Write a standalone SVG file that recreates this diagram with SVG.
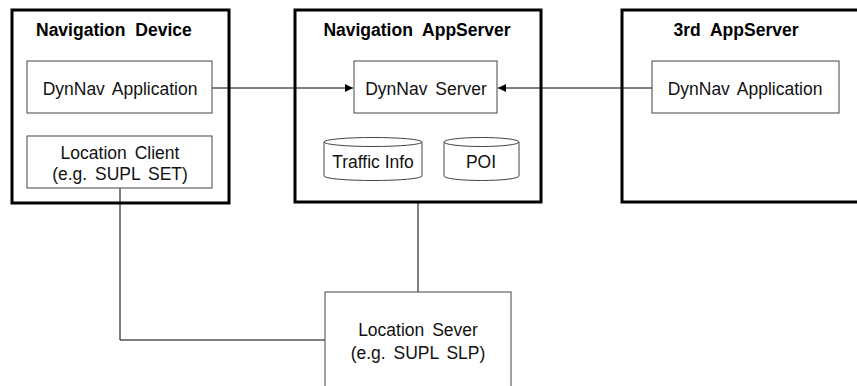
<svg xmlns="http://www.w3.org/2000/svg" width="857" height="386" viewBox="0 0 857 386">
<style>
.outer{fill:none;stroke:#000;stroke-width:3}
.inner{fill:#fff;stroke:#444;stroke-width:1}
.title{font-family:"Liberation Sans",Arial,sans-serif;font-weight:bold;font-size:17.5px;fill:#000;word-spacing:5px}
.lbl{font-family:"Liberation Sans",Arial,sans-serif;font-size:17.5px;fill:#111;text-anchor:middle;word-spacing:3px}
.conn{fill:none;stroke:#000;stroke-width:1}
</style>
<defs>
<marker id="arr" viewBox="0 0 10 10" refX="10" refY="5" markerWidth="8" markerHeight="8" markerUnits="userSpaceOnUse" orient="auto">
<path d="M0,0 L10,5 L0,10 z" fill="#000"/>
</marker>
</defs>
<rect width="857" height="386" fill="#fff"/>
<g id="connectors">
<line class="conn" x1="212" y1="88" x2="353" y2="88" marker-end="url(#arr)"/>
<line class="conn" x1="652" y1="88" x2="498" y2="88" marker-end="url(#arr)"/>
<polyline class="conn" points="120,188 120,340 325,340"/>
<line class="conn" x1="418" y1="202" x2="418" y2="292"/>
</g>
<g id="nav-device">
<rect class="outer" x="12" y="10" width="217" height="193"/>
<text class="title" x="36" y="36">Navigation Device</text>
</g>
<g id="nav-appserver">
<rect class="outer" x="295" y="10" width="246" height="192"/>
<text class="title" x="417" y="36" text-anchor="middle">Navigation AppServer</text>
</g>
<g id="third-appserver">
<rect class="outer" x="622" y="10" width="250" height="192"/>
<text class="title" x="736" y="36" text-anchor="middle">3rd AppServer</text>
</g>
<g id="dynnav-app-device">
<rect class="inner" x="27" y="61" width="185" height="52"/>
<text class="lbl" x="120" y="95">DynNav Application</text>
</g>
<g id="location-client">
<rect class="inner" x="27" y="136" width="185" height="52"/>
<text class="lbl" x="120" y="159">Location Client</text>
<text class="lbl" x="120" y="180">(e.g. SUPL SET)</text>
</g>
<g id="dynnav-server">
<rect class="inner" x="354" y="61" width="143" height="52"/>
<text class="lbl" x="426" y="95">DynNav Server</text>
</g>
<g id="traffic-info">
<path class="inner" d="M324,142 A49,4.5 0 0 1 422,142 L422,176 A49,4.5 0 0 1 324,176 Z"/>
<path class="inner" d="M324,142 A49,4.5 0 0 0 422,142" fill="none"/>
<text class="lbl" x="373" y="168" style="word-spacing:0">Traffic Info</text>
</g>
<g id="poi">
<path class="inner" d="M444,142 A37.5,4.5 0 0 1 519,142 L519,176 A37.5,4.5 0 0 1 444,176 Z"/>
<path class="inner" d="M444,142 A37.5,4.5 0 0 0 519,142" fill="none"/>
<text class="lbl" x="481" y="168">POI</text>
</g>
<g id="dynnav-app-3rd">
<rect class="inner" x="652" y="61" width="187" height="52"/>
<text class="lbl" x="745" y="95">DynNav Application</text>
</g>
<g id="location-server">
<rect class="inner" x="325" y="292" width="186" height="110"/>
<text class="lbl" x="418" y="336">Location Sever</text>
<text class="lbl" x="418" y="359">(e.g. SUPL SLP)</text>
</g>
</svg>
